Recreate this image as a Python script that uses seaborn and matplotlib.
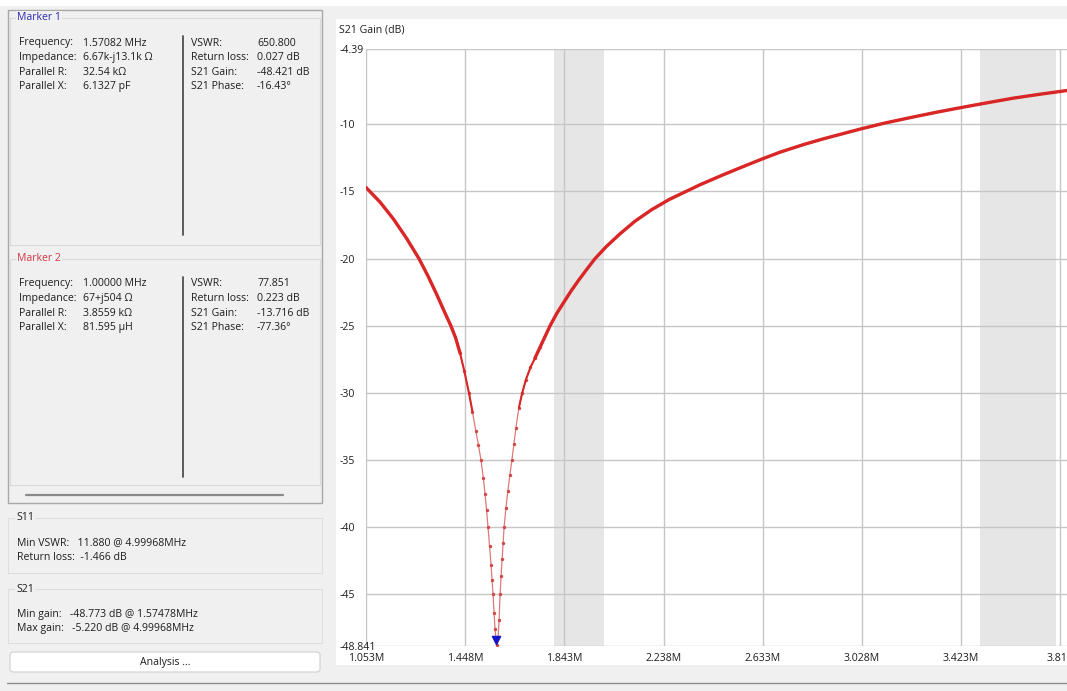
import matplotlib
matplotlib.use("Agg")
import matplotlib.pyplot as plt
import seaborn as sns
from matplotlib.patches import Rectangle, FancyBboxPatch

# S21 gain sweep (MHz, dB)
freq_mhz = [1.053, 1.109, 1.162, 1.215, 1.264, 1.300, 1.334, 1.364, 1.391, 1.410,
            1.427, 1.445, 1.463, 1.477, 1.490, 1.501, 1.511, 1.520, 1.527, 1.533,
            1.539, 1.545, 1.551, 1.555, 1.559, 1.563, 1.567, 1.571, 1.575, 1.579,
            1.583, 1.587, 1.591, 1.595, 1.599, 1.603, 1.610, 1.618, 1.626, 1.634,
            1.642, 1.650, 1.662, 1.675, 1.690, 1.708, 1.726, 1.746, 1.766, 1.786,
            1.812, 1.839, 1.870, 1.900, 1.932, 1.965, 2.010, 2.064, 2.125, 2.191,
            2.260, 2.327, 2.383, 2.476, 2.557, 2.633, 2.702, 2.800, 2.880, 3.028,
            3.120, 3.233, 3.330, 3.423, 3.531, 3.631, 3.740, 3.845]
gain_db = [-14.70, -15.79, -17.04, -18.50, -20.00, -21.30, -22.64, -23.90, -25.00, -25.90,
           -27.00, -28.40, -30.00, -31.40, -32.80, -33.90, -35.00, -36.30, -37.50, -38.70,
           -40.00, -41.40, -42.80, -43.90, -45.00, -46.40, -47.60, -48.42, -48.77, -48.20,
           -46.90, -45.00, -43.60, -42.40, -41.20, -40.00, -38.60, -37.30, -36.10, -35.00,
           -33.80, -32.60, -31.10, -30.00, -29.00, -28.10, -27.40, -26.60, -25.80, -25.00,
           -24.10, -23.30, -22.40, -21.60, -20.80, -20.00, -19.10, -18.16, -17.20, -16.35,
           -15.60, -15.00, -14.50, -13.75, -13.13, -12.56, -12.07, -11.48, -11.05, -10.32,
           -9.90, -9.45, -9.08, -8.75, -8.38, -8.05, -7.75, -7.48]

marker1 = (1.57082, -48.421)

x_ticks = [1.053, 1.448, 1.843, 2.238, 2.633, 3.028, 3.423, 3.818]
x_labels = ["1.053M", "1.448M", "1.843M", "2.238M", "2.633M", "3.028M", "3.423M", "3.818"]
y_ticks = [-4.39, -10, -15, -20, -25, -30, -35, -40, -45, -48.841]
y_labels = ["-4.39", "-10", "-15", "-20", "-25", "-30", "-35", "-40", "-45", "-48.841"]
bands = [(1.8, 2.0), (3.5, 3.8)]

marker1_rows = [("Frequency:", "1.57082 MHz"), ("Impedance:", "6.67k-j13.1k \u03a9"),
                ("Parallel R:", "32.54 k\u03a9"), ("Parallel X:", "6.1327 pF")]
marker1_right = [("VSWR:", "650.800"), ("Return loss:", "0.027 dB"),
                 ("S21 Gain:", "-48.421 dB"), ("S21 Phase:", "-16.43\u00b0")]
marker2_rows = [("Frequency:", "1.00000 MHz"), ("Impedance:", "67+j504 \u03a9"),
                ("Parallel R:", "3.8559 k\u03a9"), ("Parallel X:", "81.595 \u00b5H")]
marker2_right = [("VSWR:", "77.851"), ("Return loss:", "0.223 dB"),
                 ("S21 Gain:", "-13.716 dB"), ("S21 Phase:", "-77.36\u00b0")]
s11_lines = ["Min VSWR:   11.880 @ 4.99968MHz", "Return loss:  -1.466 dB"]
s21_lines = ["Min gain:   -48.773 dB @ 1.57478MHz", "Max gain:   -5.220 dB @ 4.99968MHz"]

sns.set_style("white")
plt.rcParams["font.family"] = ["Open Sans", "DejaVu Sans"]

W, H = 1067, 691
fig = plt.figure(figsize=(W / 100, H / 100), dpi=100, facecolor="#f0f0f0")


def fx(px):
    return px / W


def fy(py):
    return 1 - py / H


def rect(x0, y0, x1, y1, **kw):
    r = Rectangle((fx(x0), fy(y1)), fx(x1) - fx(x0), fy(y0) - fy(y1),
                  transform=fig.transFigure, zorder=-1, **kw)
    fig.add_artist(r)


def hline(x0, x1, y, color, lw=1):
    fig.add_artist(plt.Line2D([fx(x0), fx(x1)], [fy(y), fy(y)], color=color, lw=lw,
                              transform=fig.transFigure))


def vline(x, y0, y1, color, lw=1):
    fig.add_artist(plt.Line2D([fx(x), fx(x)], [fy(y0), fy(y1)], color=color, lw=lw,
                              transform=fig.transFigure))


fs = 7.6
txt = "#1e1e1e"

# window chrome
rect(0, 0, W, 6, facecolor="white", edgecolor="none")
rect(336, 19, W, 665, facecolor="white", edgecolor="none")
hline(7, W, 683, "#8c8c8c")

# marker scroll area
rect(8, 10, 322, 503, facecolor="none", edgecolor="#a8a8a8", lw=1)
rect(10, 18, 320, 245, facecolor="none", edgecolor="#dadada", lw=0.8)
rect(10, 259, 320, 485, facecolor="none", edgecolor="#dadada", lw=0.8)
hline(26, 283, 495, "#8a8a8a", lw=1.6)


def marker_box(title, color, top, rows, right, div):
    fig.text(fx(17), fy(top), title, color=color, fontsize=fs, va="center", ha="left",
             bbox=dict(facecolor="#f0f0f0", edgecolor="none", pad=1))
    base = top + 25
    for i, (k, v) in enumerate(rows):
        y = fy(base + i * 14.6)
        fig.text(fx(19), y, k, fontsize=fs, color=txt, va="center")
        fig.text(fx(83), y, v, fontsize=fs, color=txt, va="center")
    for i, (k, v) in enumerate(right):
        y = fy(base + i * 14.6)
        fig.text(fx(191), y, k, fontsize=fs, color=txt, va="center")
        fig.text(fx(257), y, v, fontsize=fs, color=txt, va="center")
    vline(183, div[0], div[1], "#505050", lw=1.3)


marker_box("Marker 1", "#2b2bb0", 18, marker1_rows, marker1_right, (36, 235))
marker_box("Marker 2", "#d03848", 259, marker2_rows, marker2_right, (277, 477))


def summary_box(title, top, bottom, lines):
    rect(8, top, 322, bottom, facecolor="none", edgecolor="#dedede", lw=0.8)
    fig.text(fx(16), fy(top), title, fontsize=fs, color=txt, va="center",
             bbox=dict(facecolor="#f0f0f0", edgecolor="none", pad=1))
    for i, s in enumerate(lines):
        fig.text(fx(17), fy(top + 25 + i * 15), s, fontsize=fs, color=txt, va="center")


summary_box("S11", 518, 573, s11_lines)
summary_box("S21", 589, 643, s21_lines)

btn = FancyBboxPatch((fx(10), fy(672)), fx(310), fy(652) - fy(672),
                     boxstyle="round,pad=0,rounding_size=0.004", transform=fig.transFigure,
                     facecolor="white", edgecolor="#cfcfcf", lw=0.8)
fig.add_artist(btn)
fig.text(fx(165), fy(662), "Analysis ...", fontsize=fs, color=txt, ha="center", va="center")

# chart
fig.text(fx(339), fy(30), "S21 Gain (dB)", fontsize=fs, color=txt, va="center")
ax = fig.add_axes([fx(366), fy(646), fx(W) - fx(366), fy(49) - fy(646)])
ax.set_facecolor("white")
for lo, hi in bands:
    ax.axvspan(lo, hi, color="#e6e6e6", lw=0, zorder=0)

ax.set_xlim(1.053, 1.053 + (W - 366) / 251.1)
ax.set_ylim(-48.841, -4.39)
ax.set_xticks(x_ticks, x_labels)
ax.set_yticks(y_ticks, y_labels)
ax.grid(True, color="#c6c6c6", lw=1, zorder=1)
ax.set_axisbelow(True)
for sp in ax.spines.values():
    sp.set_visible(False)
ax.tick_params(axis="both", length=0, labelsize=fs, labelcolor=txt)
ax.tick_params(axis="y", pad=19)
ax.tick_params(axis="x", pad=5)
for lab in ax.get_yticklabels():
    lab.set_horizontalalignment("left")

# thin trace with sample dots in the notch, heavier where the points pile up
sns.lineplot(x=freq_mhz, y=gain_db, color="#e27878", lw=0.9, ax=ax, sort=False, zorder=3)
deep = [(f, g) for f, g in zip(freq_mhz, gain_db) if g < -26]
sns.scatterplot(x=[p[0] for p in deep], y=[p[1] for p in deep], color="#d04848",
                s=6, linewidth=0, ax=ax, zorder=4)
for limit, width in ((-31.5, 1.5), (-27.5, 2.4)):
    left = [(f, g) for f, g in zip(freq_mhz, gain_db) if f < 1.575 and g >= limit]
    right = [(f, g) for f, g in zip(freq_mhz, gain_db) if f > 1.575 and g >= limit]
    for seg in (left, right):
        sns.lineplot(x=[p[0] for p in seg], y=[p[1] for p in seg], color="#d92626",
                     lw=width, ax=ax, sort=False, zorder=5)
ax.scatter([marker1[0]], [marker1[1]], marker="v", s=34, color="#1515c8", zorder=6,
           clip_on=False)
ax.set_xlabel("")
ax.set_ylabel("")

fig.savefig("out.png", dpi=100, facecolor=fig.get_facecolor())
